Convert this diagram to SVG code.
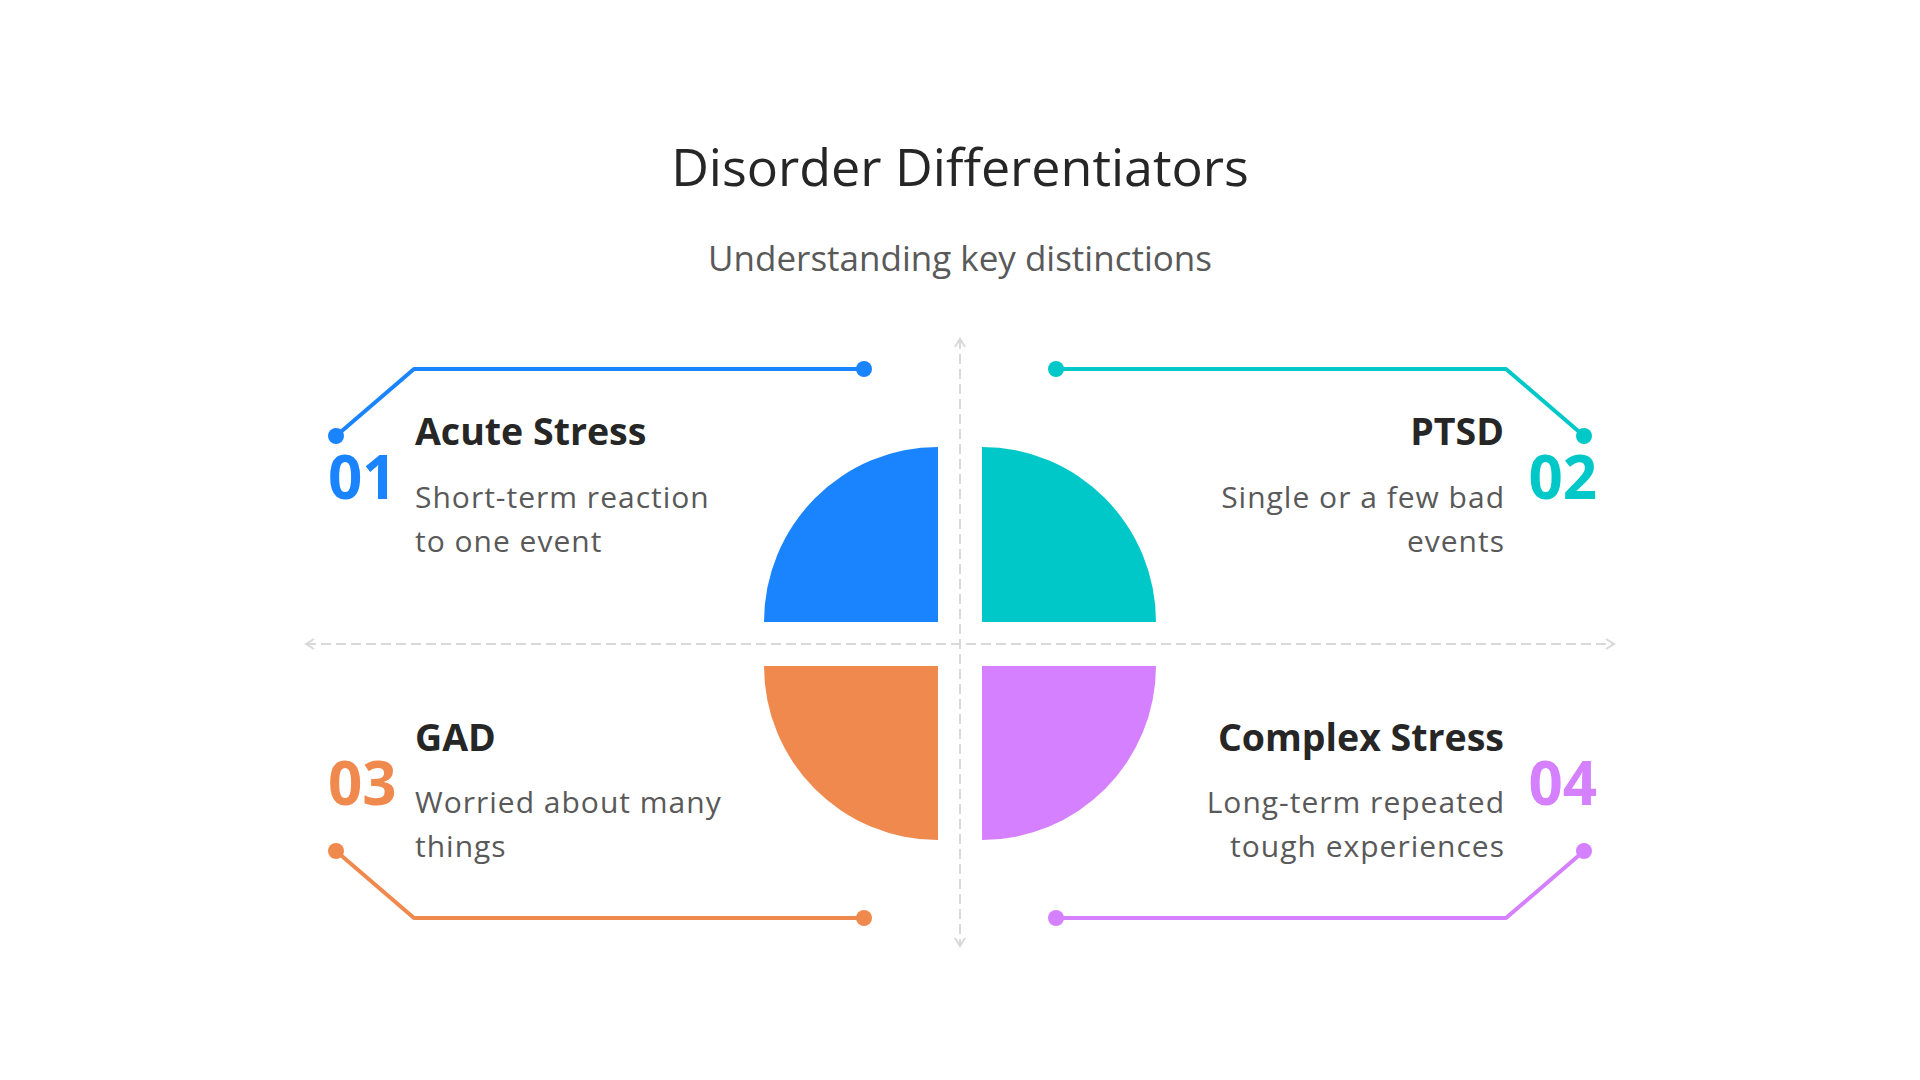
<svg xmlns="http://www.w3.org/2000/svg" width="1920" height="1080" viewBox="0 0 1920 1080">
  <style>
    .title { font-family: "Open Sans", "Noto Sans", sans-serif; font-size: 52px; fill: #262626; }
    .subtitle { font-family: "Open Sans", "Noto Sans", sans-serif; font-size: 35px; fill: #595959; }
    .head { font-family: "Open Sans", "Noto Sans", sans-serif; font-size: 37.5px; font-weight: 700; fill: #262626; }
    .num { font-family: "Open Sans", "Noto Sans", sans-serif; font-size: 60px; font-weight: 700; }
    .desc { font-family: "Open Sans", "Noto Sans", sans-serif; font-size: 30px; letter-spacing: 1px; fill: #595959; }
    .axis { stroke: #d9d9d9; stroke-width: 2; stroke-dasharray: 10 5; fill: none; }
    .lead { fill: none; stroke-width: 4; stroke-linejoin: round; }
  </style>
  <defs>
    <marker id="chev" viewBox="0 0 12 12" refX="10" refY="6" markerWidth="12" markerHeight="12" markerUnits="userSpaceOnUse" orient="auto-start-reverse">
      <path d="M2,1 L10,6 L2,11" fill="none" stroke="#d9d9d9" stroke-width="2"/>
    </marker>
  </defs>
  <rect width="1920" height="1080" fill="#ffffff"/>

  <text class="title" x="960" y="186" text-anchor="middle">Disorder Differentiators</text>
  <text class="subtitle" x="960" y="271" text-anchor="middle">Understanding key distinctions</text>

  <g id="axes">
    <line class="axis" x1="306" y1="644" x2="1614" y2="644" marker-start="url(#chev)" marker-end="url(#chev)"/>
    <line class="axis" x1="960" y1="339" x2="960" y2="946" marker-start="url(#chev)" marker-end="url(#chev)"/>
  </g>

  <g id="connectors">
    <g fill="#1A84FF">
      <polyline class="lead" stroke="#1A84FF" points="336,436 414,369 864,369"/>
      <circle cx="336" cy="436" r="8"/>
      <circle cx="864" cy="369" r="8"/>
    </g>
    <g fill="#00C8C8">
      <polyline class="lead" stroke="#00C8C8" points="1584,436 1506,369 1056,369"/>
      <circle cx="1584" cy="436" r="8"/>
      <circle cx="1056" cy="369" r="8"/>
    </g>
    <g fill="#F0894E">
      <polyline class="lead" stroke="#F0894E" points="336,851 414,918 864,918"/>
      <circle cx="336" cy="851" r="8"/>
      <circle cx="864" cy="918" r="8"/>
    </g>
    <g fill="#D580FF">
      <polyline class="lead" stroke="#D580FF" points="1584,851 1506,918 1056,918"/>
      <circle cx="1584" cy="851" r="8"/>
      <circle cx="1056" cy="918" r="8"/>
    </g>
  </g>

  <g id="node-acute-stress">
    <path d="M938,622 L764,622 A174,175 0 0 1 938,447 Z" fill="#1A84FF"/>
    <text class="num" x="328" y="499" fill="#1A84FF">01</text>
    <text class="head" x="415" y="445">Acute Stress</text>
    <text class="desc" x="415" y="508">Short-term reaction</text>
    <text class="desc" x="415" y="552">to one event</text>
  </g>

  <g id="node-ptsd">
    <path d="M982,622 L1156,622 A174,175 0 0 0 982,447 Z" fill="#00C8C8"/>
    <text class="num" x="1597" y="499" fill="#00C8C8" text-anchor="end">02</text>
    <text class="head" x="1504" y="445" text-anchor="end">PTSD</text>
    <text class="desc" x="1505" y="508" text-anchor="end">Single or a few bad</text>
    <text class="desc" x="1505" y="552" text-anchor="end">events</text>
  </g>

  <g id="node-gad">
    <path d="M938,666 L764,666 A174,174 0 0 0 938,840 Z" fill="#F0894E"/>
    <text class="num" x="328" y="805" fill="#F0894E">03</text>
    <text class="head" x="415" y="751">GAD</text>
    <text class="desc" x="415" y="813">Worried about many</text>
    <text class="desc" x="415" y="857">things</text>
  </g>

  <g id="node-complex-stress">
    <path d="M982,666 L1156,666 A174,174 0 0 1 982,840 Z" fill="#D580FF"/>
    <text class="num" x="1597" y="805" fill="#D580FF" text-anchor="end">04</text>
    <text class="head" x="1504" y="751" text-anchor="end">Complex Stress</text>
    <text class="desc" x="1505" y="813" text-anchor="end">Long-term repeated</text>
    <text class="desc" x="1505" y="857" text-anchor="end">tough experiences</text>
  </g>
</svg>
